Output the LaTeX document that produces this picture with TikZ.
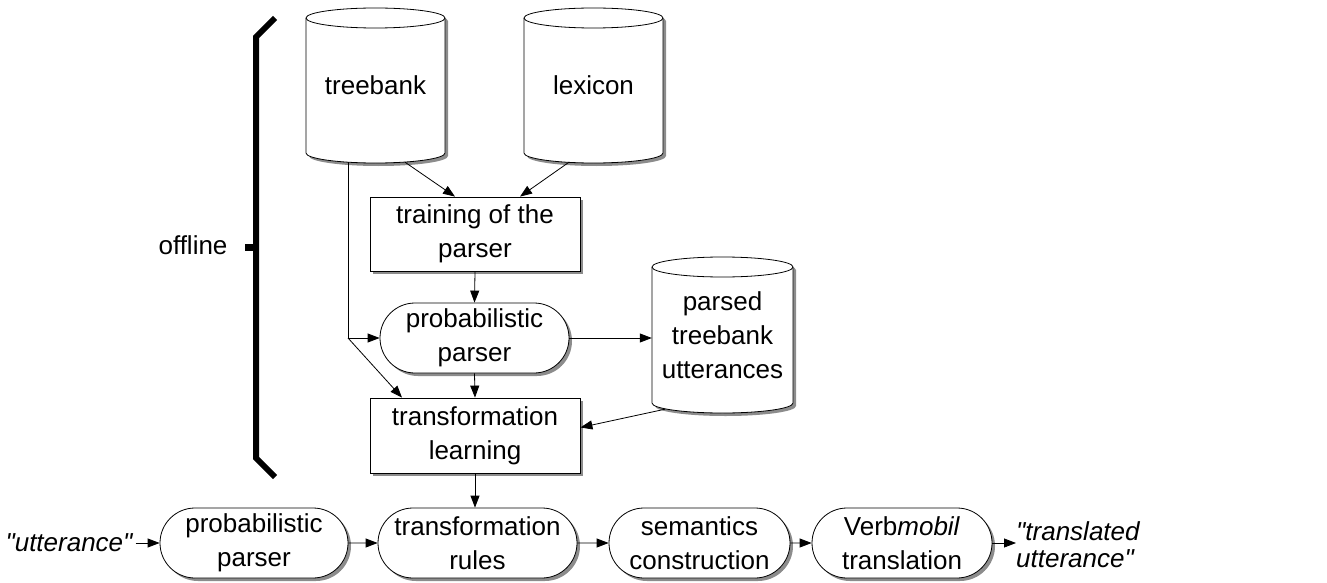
\documentclass[tikz,border=0pt]{standalone}
\usepackage{fontspec}
\setmainfont{Liberation Sans}
\usetikzlibrary{arrows.meta,shapes.misc,shadows,calc}

\tikzset{
 lbl/.style={font=\fontsize{26}{34}\selectfont, align=center, inner sep=0pt},
 shd/.style={drop shadow={shadow xshift=3pt, shadow yshift=-3pt, fill=black!45, opacity=1}},
 boxnode/.style={lbl, rectangle, draw, fill=white, line width=0.8pt, shd},
 pill/.style={lbl, rounded rectangle, draw, fill=white, line width=0.8pt, shd, minimum height=70pt},
 dbnode/.style={lbl, rectangle},
 arr/.style={-{Triangle[length=12pt,width=9pt]}, line width=0.8pt},
 ln/.style={line width=0.8pt},
 brace/.style={line width=6pt, line cap=butt, line join=miter},
}

\newcommand\dbcyl[6]{%
  \fill[black!45] ({#2-#4/2+3},{-#3+#5/2-10-3}) -- ({#2-#4/2+3},{-#3-#5/2+10-3})
     arc[start angle=180,end angle=360,x radius={#4/2},y radius=10]
     -- ({#2+#4/2+3},{-#3+#5/2-10-3})
     arc[start angle=0,end angle=180,x radius={#4/2},y radius=10] -- cycle;
  \filldraw[fill=white, ln] ({#2-#4/2},{-#3+#5/2-10}) -- ({#2-#4/2},{-#3-#5/2+10})
     arc[start angle=180,end angle=360,x radius={#4/2},y radius=10]
     -- ({#2+#4/2},{-#3+#5/2-10})
     arc[start angle=0,end angle=180,x radius={#4/2},y radius=10] -- cycle;
  \draw[ln] ({#2-#4/2},{-#3+#5/2-10}) arc[start angle=180,end angle=360,x radius={#4/2},y radius=10];
  \node[dbnode, minimum width=#4, minimum height=#5] (#1) at (#2,-#3) {#6};
}

\begin{document}
\begin{tikzpicture}[x=1pt,y=1pt]
\useasboundingbox (0,0) rectangle (1327,-583);

% databases
\dbcyl{tb}{375.5}{85.5}{139}{155}{treebank}
\dbcyl{lx}{593.5}{85.5}{139}{155}{lexicon}
\dbcyl{pt}{722.5}{335}{141}{156}{\fontsize{26}{32}\selectfont parsed\\treebank\\utterances}

% offline part
\node[boxnode, minimum width=210pt, minimum height=74pt] (train) at (475,-234) {training of the\\parser};
\node[pill, minimum width=189pt] (pp) at (474.5,-338) {probabilistic\\parser};
\node[boxnode, minimum width=210pt, minimum height=75pt] (tl) at (475,-435.5) {transformation\\learning};

% bracket
\draw[brace] (275,-18) -- (256,-37) -- (256,-458) -- (275,-477);
\draw[line width=7pt] (256,-247) -- (245,-247);
\node[lbl] (off) at (193,-245) {offline};

% bottom row
\node[lbl] (utt) at (69,-543) {\itshape\textquotedbl utterance\textquotedbl};
\node[pill, minimum width=188pt] (bp) at (254,-543) {probabilistic\\parser};
\node[pill, minimum width=199pt] (tr) at (477.5,-543) {transformation\\rules};
\node[pill, minimum width=181pt] (sc) at (699.5,-543) {semantics\\construction};
\node[pill, minimum width=180pt] (vm) at (902,-543) {Verb\textit{mobil}\\translation};
\node[lbl, align=left, anchor=west, font=\fontsize{26}{27}\selectfont\itshape] (out) at (1016,-545) {\textquotedbl translated\\ utterance\textquotedbl};

% connectors
\coordinate (j) at (348,-338);
\draw[arr] ([xshift=29.5pt,yshift=1pt]tb.south) -- ([xshift=-20pt]train.north);
\draw[arr] ([xshift=-24.5pt,yshift=1pt]lx.south) -- ([xshift=45pt]train.north);
\draw[ln] ([xshift=-27.5pt,yshift=1pt]tb.south) -- (j);
\draw[arr] (j) -- (pp.west);
\draw[arr] (j) -- ([xshift=-73pt]tl.north);
\draw[arr] (train.south) -- (pp.north);
\draw[arr] (pp.south) -- (tl.north);
\draw[arr] (pp.east) -- (pp.east -| pt.west);
\draw[arr] ([xshift=-57.5pt,yshift=4pt]pt.south) -- ([yshift=8pt]tl.east);
\draw[arr] (tl.south) -- (tl.south |- tr.north);
\draw[arr] (utt.east) ++(3pt,0) coordinate (u0) (u0) -- (bp.west);
\draw[arr] (bp) -- (tr);
\draw[arr] (tr) -- (sc);
\draw[arr] (sc) -- (vm);
\draw[arr] (vm.east) -- (vm.east -| out.west);
\end{tikzpicture}
\end{document}
